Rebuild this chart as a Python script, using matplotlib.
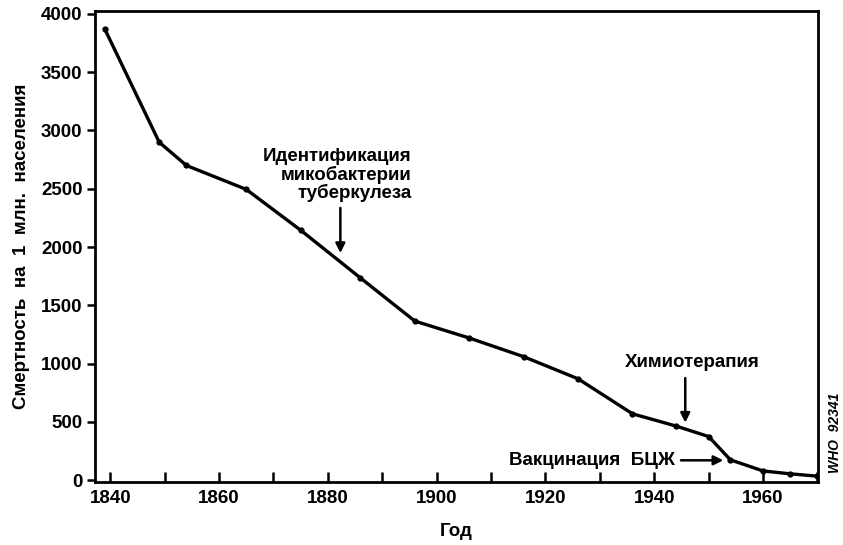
import matplotlib
matplotlib.use("Agg")
import matplotlib.pyplot as plt
from matplotlib.ticker import MultipleLocator

plt.rcParams['font.family'] = ['Liberation Sans Narrow', 'Liberation Sans', 'DejaVu Sans']

years = [1839, 1849, 1854, 1865, 1875, 1886, 1896, 1906, 1916, 1926, 1936, 1944, 1950, 1954, 1960, 1965, 1970]
deaths = [3870, 2900, 2700, 2495, 2145, 1735, 1365, 1220, 1060, 870, 570, 465, 375, 175, 80, 55, 35]
xticks = [1840, 1860, 1880, 1900, 1920, 1940, 1960]
yticks = [0, 500, 1000, 1500, 2000, 2500, 3000, 3500, 4000]

fig = plt.figure(figsize=(8.43, 5.45), dpi=100)
ax = fig.add_axes([95/843, 1-482/545, (818-95)/843, (482-11)/545])
ax.plot(years, deaths, color='black', lw=2.4, marker='o', ms=3.5, solid_joinstyle='round')
ax.set_xlim(1837.2, 1970.1)
ax.set_ylim(-15, 4025)
ax.set_xticks(xticks)
ax.set_yticks(yticks)
ax.xaxis.set_minor_locator(MultipleLocator(10))
ax.tick_params(axis='x', which='both', direction='in', length=7, width=1.8, labelsize=13.5, pad=6)
ax.tick_params(axis='y', which='both', direction='out', length=6, width=1.8, labelsize=13.5, pad=3)
for lbl in ax.get_xticklabels() + ax.get_yticklabels():
    lbl.set_fontweight('bold')
for s in ax.spines.values():
    s.set_linewidth(2)

ax.set_xlabel('Год', fontsize=13.5, fontweight='bold', labelpad=11)
ax.set_ylabel('Смертность  на  1  млн.  населения', fontsize=13.5, fontweight='bold', labelpad=8)

ax.text(1895.4, 2390, 'Идентификация\nмикобактерии\nтуберкулеза', ha='right', va='bottom',
        fontsize=13.5, fontweight='bold', linespacing=1.0, multialignment='right')
ax.annotate('', xy=(1882.3, 1925), xytext=(1882.3, 2360),
            arrowprops=dict(arrowstyle='-|>', color='black', lw=1.8, mutation_scale=14))

ax.text(1947.0, 1010, 'Химиотерапия', ha='center', va='center', fontsize=13.5, fontweight='bold')
ax.annotate('', xy=(1945.7, 470), xytext=(1945.7, 900),
            arrowprops=dict(arrowstyle='-|>', color='black', lw=1.8, mutation_scale=14))

ax.text(1943.8, 171, 'Вакцинация  БЦЖ', ha='right', va='center', fontsize=13.5, fontweight='bold')
ax.annotate('', xy=(1953.2, 171), xytext=(1944.4, 171),
            arrowprops=dict(arrowstyle='-|>', color='black', lw=1.8, mutation_scale=14))

fig.text(835/843, 1-433/545, 'WHO  92341', rotation=90, ha='center', va='center',
         fontsize=10, fontweight='bold', fontstyle='italic')

fig.savefig('out.png', dpi=100)
